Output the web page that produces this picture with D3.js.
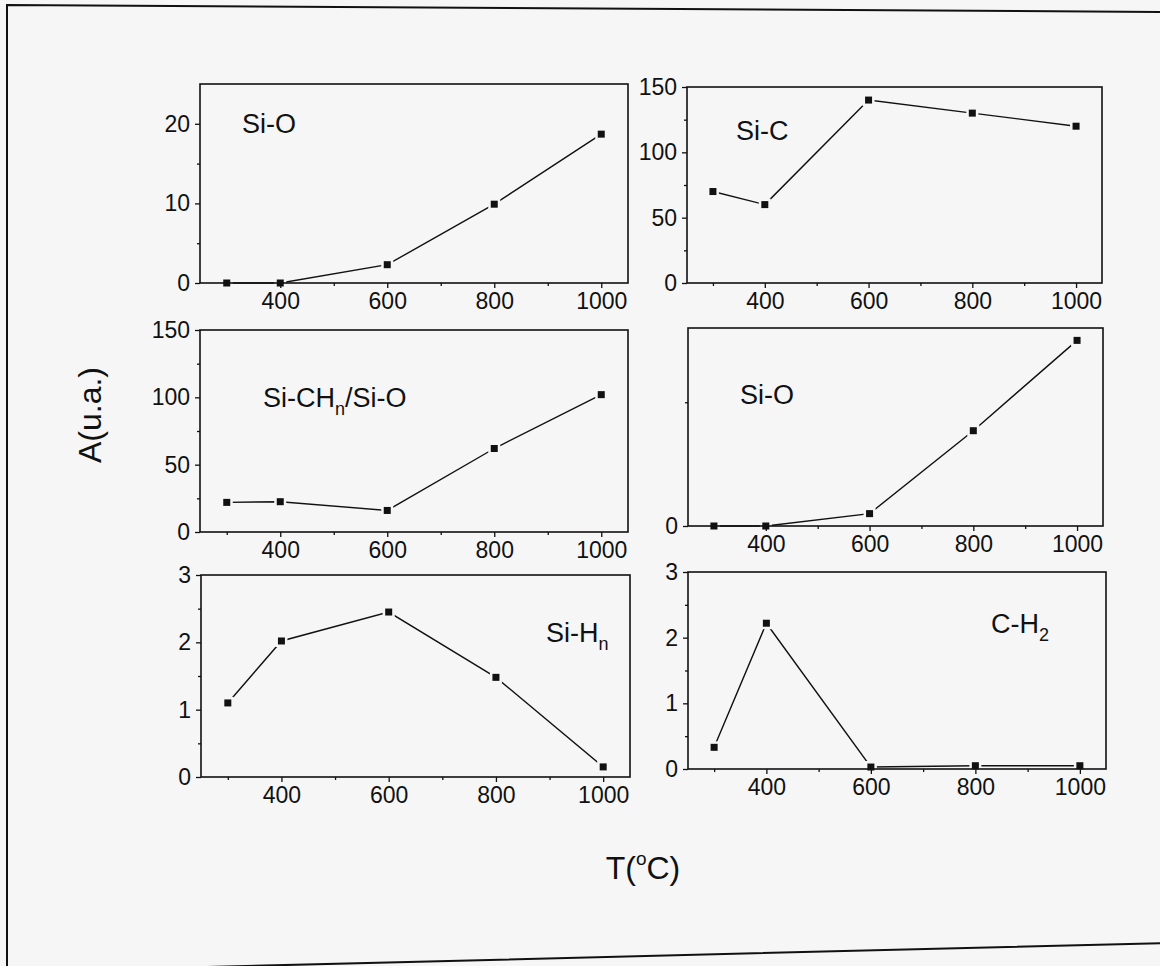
<!DOCTYPE html>
<html>
<head>
<meta charset="utf-8">
<script src="https://cdn.jsdelivr.net/npm/d3@7"></script>
<style>
  body { margin: 0; background: #f6f6f6; }
  svg { display: block; font-family: "Liberation Sans", Arial, sans-serif; }
</style>
</head>
<body>
<div class="canvas"></div>
<script>
// temperatures (x) and tick values
const temps = [300, 400, 600, 800, 1000];
const xMajor = [400, 600, 800, 1000];
const xMinor = [300, 500, 700, 900];

// areas per band
const siO = [0, 0, 2.3, 9.9, 18.7];
const siC = [70, 60, 140, 130, 120];
const siCHn = [22, 22.5, 16, 62, 102];
const siO2 = [0, 0, 0.1, 0.77, 1.5];
const siHn = [1.1, 2.02, 2.45, 1.48, 0.15];
const cH2 = [0.33, 2.22, 0.03, 0.05, 0.05];

const panelNames = ['Si-O', 'Si-C', 'Si-CH{n}/Si-O', 'Si-O', 'Si-H{n}', 'C-H{2}'];
const panelValues = [siO, siC, siCHn, siO2, siHn, cH2];
const yMax = [25, 150, 150, 1.6, 3, 3];
const yMajor = [[0, 10, 20], [0, 50, 100, 150], [0, 50, 100, 150], [0], [0, 1, 2, 3], [0, 1, 2, 3]];
const yMinor = [[5, 15], [25, 75, 125], [25, 75, 125], [1], [0.5, 1.5, 2.5], [0.5, 1.5, 2.5]];

// where each panel sits on the page
const layout = [
  { x0: 200, x1: 628, y0: 84, y1: 283, lx: 242, ly: 133 },
  { x0: 687, x1: 1102, y0: 87, y1: 283, lx: 736, ly: 140 },
  { x0: 200, x1: 628, y0: 330, y1: 532, lx: 263, ly: 407 },
  { x0: 688, x1: 1103, y0: 328, y1: 526, lx: 740, ly: 404 },
  { x0: 201, x1: 630, y0: 575, y1: 777, lx: 546, ly: 642 },
  { x0: 688, x1: 1106, y0: 572, y1: 769, lx: 991, ly: 633 },
];

const svg = d3.select('.canvas')
  .append('svg')
  .attr('width', 1160)
  .attr('height', 966)

// scanned page frame
svg.append('path')
  .attr('d', 'M7,5 L1166,12 L1166,943 L7,972 Z')
  .attr('fill', 'none')
  .attr('stroke', '#111')
  .attr('stroke-width', 2)

const styleAxis = (sel, size) => {
  sel.attr('font-family', null).attr('font-size', size)
  sel.select('.domain').remove()
  sel.selectAll('line').attr('stroke', '#111').attr('stroke-width', 1.3)
  sel.selectAll('text').attr('fill', '#111')
}

const addLabel = (g, str, x, y) => {
  const t = g.append('text')
    .attr('x', x).attr('y', y)
    .attr('font-size', 27)
    .attr('fill', '#111')
  let shifted = false
  str.split(/(\{[^}]*\})/).filter(s => s.length).forEach(part => {
    if (part.startsWith('{')) {
      t.append('tspan').attr('font-size', 18).attr('dy', 8).text(part.slice(1, -1))
      shifted = true
    } else {
      t.append('tspan').attr('dy', shifted ? -8 : 0).text(part)
      shifted = false
    }
  })
}

panelValues.forEach((values, i) => {
  const b = layout[i]
  const x = d3.scaleLinear().domain([250, 1050]).range([b.x0, b.x1])
  const y = d3.scaleLinear().domain([0, yMax[i]]).range([b.y1, b.y0])
  const g = svg.append('g')

  const line = d3.line()
    .x((d, j) => x(temps[j]))
    .y(d => y(d))

  g.append('path')
    .datum(values)
    .attr('d', line)
    .attr('fill', 'none')
    .attr('stroke', '#111')
    .attr('stroke-width', 1.4)

  // small gap around each marker, like the original plot
  g.selectAll('rect.halo')
    .data(values)
    .enter()
    .append('rect')
    .attr('class', 'halo')
    .attr('x', (d, j) => x(temps[j]) - 6)
    .attr('y', d => y(d) - 6)
    .attr('width', 12)
    .attr('height', 12)
    .attr('fill', '#f6f6f6')

  // frame
  g.append('rect')
    .attr('x', b.x0).attr('y', b.y0)
    .attr('width', b.x1 - b.x0).attr('height', b.y1 - b.y0)
    .attr('fill', 'none')
    .attr('stroke', '#111')
    .attr('stroke-width', 1.6)

  g.selectAll('rect.pt')
    .data(values)
    .enter()
    .append('rect')
    .attr('class', 'pt')
    .attr('x', (d, j) => x(temps[j]) - 3.5)
    .attr('y', d => y(d) - 3.5)
    .attr('width', 7)
    .attr('height', 7)
    .attr('fill', '#111')

  // x axis
  g.append('g')
    .attr('transform', `translate(0,${b.y1})`)
    .call(d3.axisBottom(x).tickValues(xMajor).tickSize(5).tickSizeOuter(0).tickPadding(5).tickFormat(d3.format('d')))
    .call(styleAxis, 23)
  g.append('g')
    .attr('transform', `translate(0,${b.y1})`)
    .call(d3.axisBottom(x).tickValues(xMinor).tickSize(3).tickSizeOuter(0).tickFormat(''))
    .call(styleAxis, 23)

  // y axis
  g.append('g')
    .attr('transform', `translate(${b.x0},0)`)
    .call(d3.axisLeft(y).tickValues(yMajor[i]).tickSize(5).tickSizeOuter(0).tickPadding(5).tickFormat(d3.format('d')))
    .call(styleAxis, 23)
  g.append('g')
    .attr('transform', `translate(${b.x0},0)`)
    .call(d3.axisLeft(y).tickValues(yMinor[i]).tickSize(3).tickSizeOuter(0).tickFormat(''))
    .call(styleAxis, 23)

  addLabel(g, panelNames[i], b.lx, b.ly)
})

// shared axis titles
svg.append('text')
  .attr('transform', 'translate(101,415) rotate(-90)')
  .attr('text-anchor', 'middle')
  .attr('font-size', 32)
  .attr('fill', '#111')
  .text('A(u.a.)')

const tLabel = svg.append('text')
  .attr('x', 643).attr('y', 879)
  .attr('text-anchor', 'middle')
  .attr('font-size', 32)
  .attr('fill', '#111')
tLabel.append('tspan').text('T(')
tLabel.append('tspan').attr('font-size', 19).attr('dy', -14).text('o')
tLabel.append('tspan').attr('dy', 14).text('C)')
</script>
</body>
</html>
